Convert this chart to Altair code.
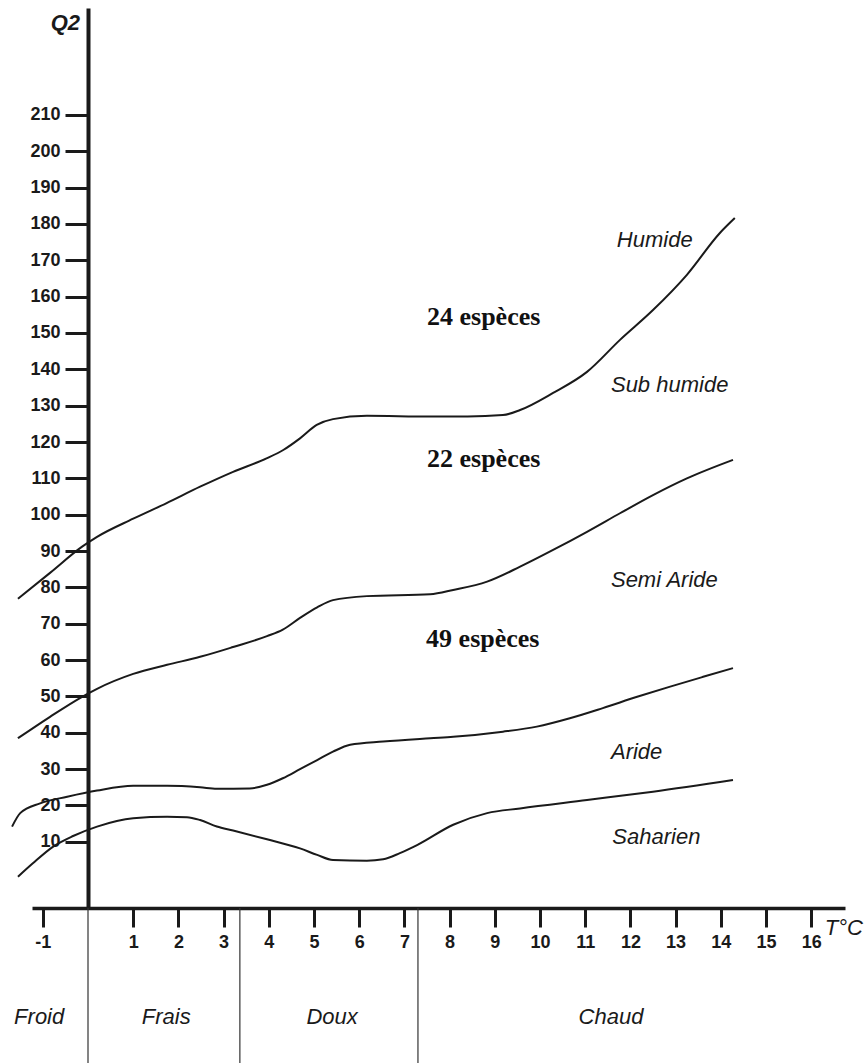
import altair as alt
import pandas as pd

# Boundary curves between bioclimatic stages: mean minimum temperature T (°C) vs Emberger's Q2
humide_t = [-1.55, -0.84, -0.13, 0.2, 1.0, 1.74, 2.48, 3.21, 3.95, 4.32, 4.69, 5.06, 5.42,
            6.17, 7.57, 8.4, 9.18, 9.56, 10.29, 11.04, 11.77, 12.5, 13.25, 13.98, 14.31]
humide_q2 = [76.9, 84.0, 91.2, 93.9, 98.9, 103.2, 107.7, 111.8, 115.5, 117.8, 121.0, 124.7, 126.3,
             127.2, 127.0, 127.0, 127.4, 128.8, 133.5, 139.3, 148.1, 156.3, 166.0, 177.5, 181.6]

subhumide_t = [-1.55, -0.84, -0.13, 0.2, 1.0, 1.75, 2.48, 3.21, 3.96, 4.31, 4.69, 5.07, 5.42,
               6.17, 7.57, 8.08, 8.83, 9.56, 10.29, 11.04, 11.77, 12.5, 13.25, 14.27]
subhumide_q2 = [38.5, 44.4, 49.9, 52.1, 56.2, 58.7, 60.9, 63.6, 66.6, 68.4, 71.6, 74.5, 76.5,
                77.6, 78.1, 79.3, 81.6, 85.7, 90.3, 95.3, 100.4, 105.4, 110.0, 115.1]

semiaride_t = [-1.68, -1.50, -1.06, -0.46, 0.2, 1.0, 1.75, 2.48, 2.85, 3.58, 3.96, 4.31, 4.69,
               5.07, 5.42, 5.80, 6.53, 7.57, 8.08, 9.18, 9.93, 10.66, 11.39, 12.15, 12.88, 13.61, 14.27]
semiaride_q2 = [14.2, 17.9, 20.6, 22.4, 24.1, 25.4, 25.4, 25.0, 24.6, 24.7, 25.7, 27.5, 30.0,
                32.5, 34.8, 36.7, 37.6, 38.5, 38.9, 40.3, 41.7, 44.0, 46.8, 49.9, 52.7, 55.4, 57.8]

aride_t = [-1.55, -1.22, -0.77, -0.33, 0.2, 1.0, 1.75, 2.19, 2.48, 2.85, 3.21, 3.96, 4.69,
           5.07, 5.42, 6.17, 6.53, 6.90, 7.28, 8.08, 8.83, 9.56, 11.04, 12.5, 14.27]
aride_q2 = [0.4, 4.1, 8.7, 11.6, 14.2, 16.5, 16.9, 16.8, 16.0, 14.2, 13.1, 10.7, 8.2,
            6.4, 5.0, 4.8, 5.2, 6.9, 9.1, 14.7, 17.9, 19.2, 21.5, 23.8, 27.0]

# Stage names written between the curves
etages = ["Humide", "Sub humide", "Semi Aride", "Aride", "Saharien"]
etages_t = [11.70, 11.57, 11.57, 11.57, 11.60]
etages_q2 = [175.6, 135.7, 82.1, 34.8, 11.4]

# Number of species found in each stage
especes = ["24 espèces", "22 espèces", "49 espèces"]
especes_t = [7.50, 7.50, 7.48]
especes_q2 = [152.2, 113.1, 63.6]

# Thermal variants along the temperature axis and the limits between them
variantes = ["Froid", "Frais", "Doux", "Chaud"]
variantes_t = [-1.08, 1.73, 5.40, 11.57]
variantes_q2 = [-38.2, -38.2, -38.2, -38.2]
limites_t = [0.0, 3.36, 7.30]

x_ticks = [-1] + list(range(1, 17))
y_ticks = list(range(10, 211, 10))

curves = pd.concat([
    pd.DataFrame({"T": humide_t, "Q2": humide_q2, "limite": "Humide"}),
    pd.DataFrame({"T": subhumide_t, "Q2": subhumide_q2, "limite": "Sub humide"}),
    pd.DataFrame({"T": semiaride_t, "Q2": semiaride_q2, "limite": "Semi Aride"}),
    pd.DataFrame({"T": aride_t, "Q2": aride_q2, "limite": "Aride"}),
], ignore_index=True)

etages_df = pd.DataFrame({"T": etages_t, "Q2": etages_q2, "texte": etages})
especes_df = pd.DataFrame({"T": especes_t, "Q2": especes_q2, "texte": especes})
variantes_df = pd.DataFrame({"T": variantes_t, "Q2": variantes_q2, "texte": variantes})
limites_df = pd.DataFrame({"T": limites_t, "Q2": [-8.2] * 3, "Q2_bas": [-51.0] * 3})
titre_y_df = pd.DataFrame({"T": [-0.50], "Q2": [235.3], "texte": ["Q2"]})
titre_x_df = pd.DataFrame({"T": [16.3], "Q2": [-15.6], "texte": ["T°C"]})

SANS = "Liberation Sans"
SERIF = "Liberation Serif"
INK = "#1a1a1a"

x_scale = alt.Scale(domain=[-1.239, 16.748], nice=False, zero=False)
y_scale = alt.Scale(domain=[-8.2, 239.4], nice=False, zero=False)

x_axis = alt.Axis(
    values=x_ticks, title=None, grid=False, orient="bottom",
    domainColor=INK, domainWidth=3.5, tickColor=INK, tickWidth=3, tickSize=19,
    labelFont=SANS, labelFontWeight="bold", labelFontSize=18, labelColor=INK,
    labelPadding=6, labelOverlap=False, labelFlush=False,
    labelExpr="toString(datum.value)",
)
y_axis = alt.Axis(
    values=y_ticks, title=None, grid=False, orient="left", offset=-56,
    domainColor=INK, domainWidth=4, tickColor=INK, tickWidth=3, tickSize=23,
    labelFont=SANS, labelFontWeight="bold", labelFontSize=18, labelColor=INK,
    labelPadding=5, labelOverlap=False, labelFlush=False,
    labelExpr="toString(datum.value)",
)

# The same encodings (and axes) are shared by every layer
x_enc = alt.X("T:Q", scale=x_scale, axis=x_axis)
y_enc = alt.Y("Q2:Q", scale=y_scale, axis=y_axis)

lines = alt.Chart(curves).mark_line(
    interpolate="monotone", color=INK, strokeWidth=2
).encode(x=x_enc, y=y_enc, detail="limite:N")

separateurs = alt.Chart(limites_df).mark_rule(color="#333", strokeWidth=1.2).encode(
    x=x_enc, y=y_enc, y2="Q2_bas:Q"
)

etages_txt = alt.Chart(etages_df).mark_text(
    align="left", baseline="middle", font=SANS, fontStyle="italic",
    fontSize=22, color=INK
).encode(x=x_enc, y=y_enc, text="texte:N")

especes_txt = alt.Chart(especes_df).mark_text(
    align="left", baseline="alphabetic", font=SERIF, fontWeight="bold",
    fontSize=26, color="#111"
).encode(x=x_enc, y=y_enc, text="texte:N")

variantes_txt = alt.Chart(variantes_df).mark_text(
    align="center", baseline="middle", font=SANS, fontStyle="italic",
    fontSize=22, color=INK
).encode(x=x_enc, y=y_enc, text="texte:N")

titre_y = alt.Chart(titre_y_df).mark_text(
    align="center", baseline="middle", font=SANS, fontStyle="italic",
    fontWeight="bold", fontSize=22, color=INK
).encode(x=x_enc, y=y_enc, text="texte:N")

titre_x = alt.Chart(titre_x_df).mark_text(
    align="left", baseline="alphabetic", font=SANS, fontStyle="italic",
    fontSize=22, color=INK
).encode(x=x_enc, y=y_enc, text="texte:N")

chart = alt.layer(
    lines, separateurs, etages_txt, especes_txt, variantes_txt, titre_y, titre_x
).properties(
    width=813, height=900,
    autosize=alt.AutoSizeParams(type="none"),
    padding={"left": 32, "top": 8, "right": 19, "bottom": 155},
    background="white",
).configure_view(strokeWidth=0)

chart.save("out.html", embed_options={"renderer": "svg", "actions": False})
